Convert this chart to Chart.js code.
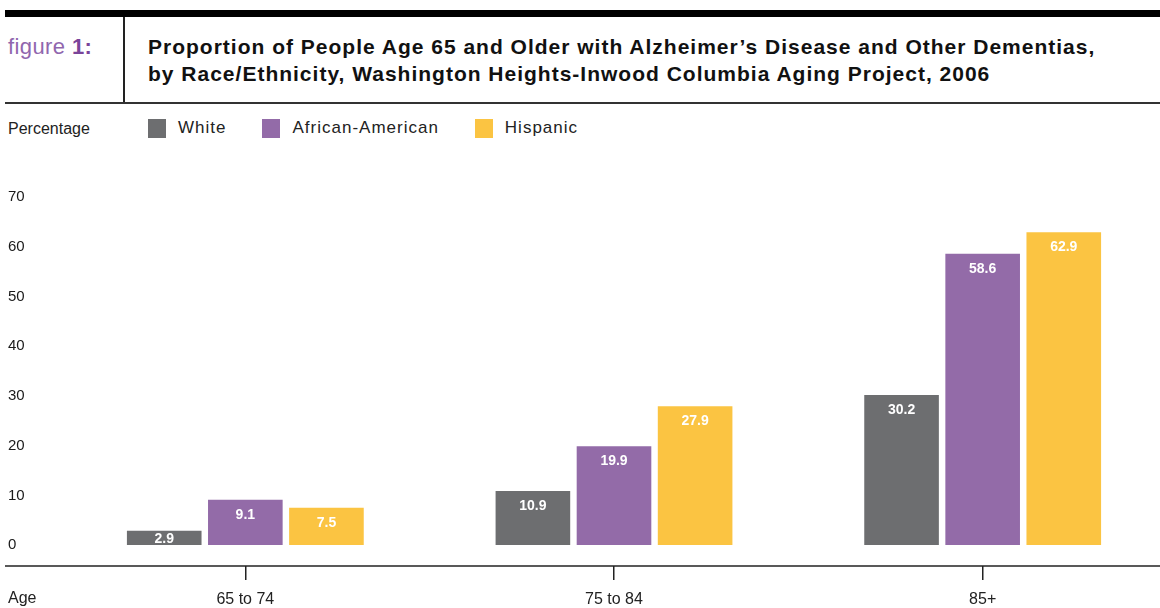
<!DOCTYPE html>
<html>
<head>
<meta charset="utf-8">
<script src="https://cdn.jsdelivr.net/npm/chart.js@4"></script>
<style>
  body { margin: 0; width: 1160px; height: 608px; overflow: hidden; background: #fff;
         font-family: "Liberation Sans", Arial, sans-serif; color: #1a1a1a; position: relative; }
  #topbar { position: absolute; top: 10px; left: 5px; right: 0; height: 7px; background: #000; }
  #vline { position: absolute; top: 17px; left: 123px; width: 1.5px; height: 86px; background: #222; }
  #hline { position: absolute; top: 102px; left: 5px; right: 0; height: 1.5px; background: #333; }
  #fig { position: absolute; top: 34px; left: 8px; font-size: 22px; letter-spacing: 0.4px; color: #9066ae; }
  #fig b { color: #7a4499; }
  #title { position: absolute; top: 33px; left: 148px; width: 1010px; text-align: left; font-size: 21px;
           font-weight: bold; letter-spacing: 1px; line-height: 27px; color: #111; white-space: nowrap; }
  #ylab { position: absolute; top: 120px; left: 8px; font-size: 16px; color: #222; }
  #legend { position: absolute; top: 118px; left: 148px; display: flex; font-size: 17px;
            letter-spacing: 1px; color: #222; }
  .item { display: flex; align-items: center; margin-right: 36px; }
  .box { width: 18px; height: 19px; margin-right: 12px; }
  #wrap { position: absolute; top: 140px; left: 0; width: 1167px; height: 468px; }
</style>
</head>
<body>
<div id="topbar"></div>
<div id="vline"></div>
<div id="hline"></div>
<div id="fig">figure <b>1:</b></div>
<div id="title">Proportion of People Age 65 and Older with Alzheimer’s Disease and Other Dementias,<br>by Race/Ethnicity, Washington Heights-Inwood Columbia Aging Project, 2006</div>
<div id="ylab">Percentage</div>
<div id="legend"></div>
<div id="wrap"><canvas id="chart" width="1167" height="468"></canvas></div>
<script>
const ageGroups = ['65 to 74', '75 to 84', '85+'];
const seriesNames = ['White', 'African-American', 'Hispanic'];
const seriesColors = ['#6d6e70', '#936ba8', '#fbc442'];
const white = [2.9, 10.9, 30.2];
const africanAmerican = [9.1, 19.9, 58.6];
const hispanic = [7.5, 27.9, 62.9];
const yTicks = [0, 10, 20, 30, 40, 50, 60, 70];

const seriesValues = [white, africanAmerican, hispanic];
const FONT = '"Liberation Sans", Arial, sans-serif';

// legend built from the series
const legendEl = document.getElementById('legend');
seriesNames.forEach((name, i) => {
  const item = document.createElement('div');
  item.className = 'item';
  const box = document.createElement('span');
  box.className = 'box';
  box.style.background = seriesColors[i];
  const label = document.createElement('span');
  label.textContent = name;
  item.appendChild(box);
  item.appendChild(label);
  legendEl.appendChild(item);
});

const decorations = {
  id: 'decorations',
  afterDatasetsDraw(chart) {
    const ctx = chart.ctx;
    const area = chart.chartArea;
    ctx.save();

    // value labels inside the bars
    ctx.fillStyle = '#fff';
    ctx.font = 'bold 14px ' + FONT;
    ctx.textAlign = 'center';
    ctx.textBaseline = 'middle';
    chart.data.datasets.forEach((ds, i) => {
      chart.getDatasetMeta(i).data.forEach((bar, j) => {
        const h = bar.base - bar.y;
        const y = h < 30 ? bar.y + h / 2 + 1 : bar.y + 15;
        ctx.fillText(ds.data[j].toFixed(1), bar.x, y);
      });
    });

    // baseline across the full width
    ctx.strokeStyle = '#222';
    ctx.lineWidth = 1.5;
    ctx.beginPath();
    ctx.moveTo(5, area.bottom);
    ctx.lineTo(chart.width, area.bottom);
    ctx.stroke();

    // "Age" label
    ctx.fillStyle = '#222';
    ctx.font = '16px ' + FONT;
    ctx.textAlign = 'left';
    ctx.fillText('Age', 8, area.bottom + 33);
    ctx.restore();
  }
};

new Chart(document.getElementById('chart'), {
  type: 'bar',
  data: {
    labels: ageGroups,
    datasets: seriesNames.map((name, i) => ({
      label: name,
      data: seriesValues[i],
      backgroundColor: seriesColors[i],
      categoryPercentage: 0.66,
      barPercentage: 0.92
    }))
  },
  options: {
    responsive: false,
    devicePixelRatio: 1,
    animation: false,
    layout: { padding: { top: 57, left: 8, right: 0, bottom: 0 } },
    plugins: {
      legend: { display: false },
      tooltip: { enabled: false }
    },
    scales: {
      x: {
        offset: true,
        grid: { offset: false, drawOnChartArea: false, drawTicks: true, tickLength: 14, color: '#222', lineWidth: 1.5 },
        border: { display: false },
        ticks: { color: '#222', padding: 10, font: { size: 16, family: FONT } },
        afterFit(scale) { scale.height = 42; }
      },
      y: {
        min: -4.2,
        max: 70,
        grid: { display: false },
        border: { display: false },
        afterBuildTicks(scale) { scale.ticks = yTicks.map(v => ({ value: v })); },
        afterFit(scale) { scale.width = 53; },
        ticks: { crossAlign: 'far', padding: 0, color: '#1a1a1a', font: { size: 15, family: FONT } }
      }
    }
  },
  plugins: [decorations]
});
</script>
</body>
</html>
